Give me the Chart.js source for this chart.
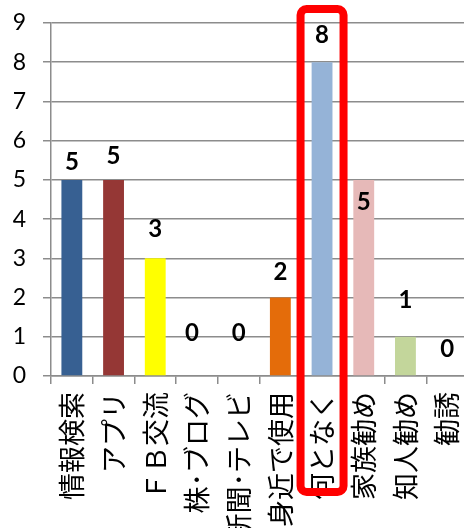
<!DOCTYPE html>
<html>
<head>
<meta charset="utf-8">
<script src="https://cdn.jsdelivr.net/npm/chart.js@4"></script>
<style>
html,body{margin:0;padding:0;background:#fff;overflow:hidden;width:464px;height:528px;}
#wrap{width:472px;height:528px;}
</style>
</head>
<body>
<div id="wrap"><canvas id="c" width="472" height="528"></canvas></div>
<script>
const categories = ["情報検索", "アプリ", "ＦＢ交流", "株･ブログ", "新聞･テレビ", "身近で使用", "何となく", "家族勧め", "知人勧め", "勧誘"];
const values = [5, 5, 3, 0, 0, 2, 8, 5, 1, 0];
const barColors = ["#376092", "#953735", "#FFFF00", "#4F81BD", "#4F81BD", "#E46C0A", "#95B3D7", "#E6B9B8", "#C3D69B", "#4F81BD"];
const yTicks = [0, 1, 2, 3, 4, 5, 6, 7, 8, 9];
const highlightIndex = 6;

const GRID = "#8c8c8c";

const labelPlugin = {
  id: "valueLabels",
  afterDatasetsDraw(chart, args, opts) {
    const ctx = chart.ctx;
    const meta = chart.getDatasetMeta(0);
    const y = chart.scales.y;
    ctx.save();
    ctx.font = "bold 24px Lato";
    ctx.fillStyle = "#000";
    ctx.textAlign = "center";
    ctx.textBaseline = "middle";
    meta.data.forEach((bar, i) => {
      const v = values[i];
      const top = y.getPixelForValue(v);
      ctx.fillText(String(v), bar.x + opts.dx[i], top - opts.dy[i]);
    });
    ctx.restore();
  }
};

const boxPlugin = {
  id: "highlightBox",
  afterDraw(chart, args, opts) {
    const ctx = chart.ctx;
    const x = chart.scales.x;
    const area = chart.chartArea;
    const cx = x.getPixelForValue(highlightIndex);
    const l = cx - opts.halfWidth, r = cx + opts.halfWidth;
    const t = area.top - opts.above, b = area.bottom + opts.below;
    ctx.save();
    ctx.strokeStyle = "#FF0000";
    ctx.lineWidth = opts.lineWidth;
    ctx.lineJoin = "round";
    ctx.beginPath();
    ctx.roundRect(l, t, r - l, b - t, opts.radius);
    ctx.stroke();
    ctx.restore();
  }
};

new Chart(document.getElementById("c"), {
  type: "bar",
  data: {
    labels: categories,
    datasets: [{
      data: values,
      backgroundColor: barColors,
      borderWidth: 0,
      categoryPercentage: 1,
      barPercentage: 0.5
    }]
  },
  options: {
    responsive: false,
    animation: false,
    events: [],
    layout: { padding: { top: 23, left: 0, right: 4, bottom: 0 } },
    plugins: {
      legend: { display: false },
      tooltip: { enabled: false },
      title: { display: false },
      valueLabels: {
        dy: [18, 24, 29, 43, 43, 25, 27, -22, 37, 27],
        dx: [0, 0, 0, -5, 0, 0, 0, 0, 0, 0]
      },
      highlightBox: { halfWidth: 21.5, above: 14, below: 116, lineWidth: 8, radius: 6 }
    },
    scales: {
      x: {
        afterFit(scale) { scale.height = 152; scale.paddingLeft = 0; scale.paddingRight = 0; },
        grid: {
          display: true,
          drawOnChartArea: false,
          drawTicks: true,
          tickLength: 8,
          color: GRID,
          lineWidth: 1.5,
          offset: true
        },
        border: { display: true, color: GRID, width: 1.5 },
        ticks: {
          autoSkip: false,
          minRotation: 90,
          maxRotation: 90,
          padding: 8,
          color: "#000",
          font: { family: "'Noto Sans CJK JP'", size: 27 }
        }
      },
      y: {
        min: 0,
        max: 9,
        afterFit(scale) { scale.width = 51; scale.paddingTop = 0; scale.paddingBottom = 0; },
        afterBuildTicks(scale) { scale.ticks = yTicks.map(v => ({ value: v })); },
        grid: {
          color: GRID,
          lineWidth: 1.5,
          tickLength: 8,
          drawTicks: true
        },
        border: { display: true, color: GRID, width: 1.5 },
        ticks: {
          stepSize: 1,
          padding: 17,
          color: "#000",
          font: { family: "Lato", size: 23 }
        }
      }
    }
  },
  plugins: [labelPlugin, boxPlugin]
});
</script>
</body>
</html>
